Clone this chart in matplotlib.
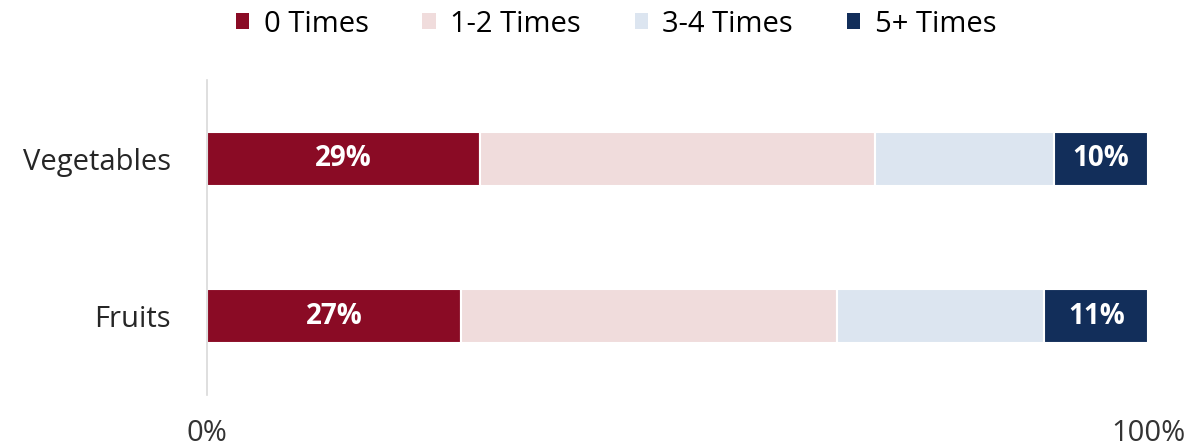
import matplotlib
matplotlib.use("Agg")
import matplotlib.pyplot as plt
from matplotlib.patches import Patch

categories = ["Fruits", "Vegetables"]
series_names = ["0 Times", "1-2 Times", "3-4 Times", "5+ Times"]
values = {
    "0 Times": [27, 29],
    "1-2 Times": [40, 42],
    "3-4 Times": [22, 19],
    "5+ Times": [11, 10],
}
labelled = ["0 Times", "5+ Times"]
colors = ["#8A0B25", "#F0DCDC", "#DCE5F0", "#122E5A"]
x_ticks = [0, 100]
x_tick_labels = ["0%", "100%"]

plt.rcParams["font.family"] = ["Open Sans", "DejaVu Sans"]

fig = plt.figure(figsize=(11.93, 4.46), dpi=100)
ax = fig.add_axes([207 / 1193, 51 / 446, 941 / 1193, 315 / 446])

left = [0.0] * len(categories)
for name, col in zip(series_names, colors):
    vals = values[name]
    bars = ax.barh(range(len(categories)), vals, left=left, height=0.345,
                   color=col, edgecolor="white", linewidth=1.5)
    if name in labelled:
        for b, v in zip(bars, vals):
            ax.text(b.get_x() + b.get_width() / 2, b.get_y() + b.get_height() / 2,
                    f"{v}%", ha="center", va="center", color="white",
                    fontsize=20, fontweight="bold")
    left = [l + v for l, v in zip(left, vals)]

ax.set_xlim(0, 100)
ax.set_ylim(-0.5, 1.5)
ax.set_yticks(range(len(categories)))
ax.set_yticklabels(categories, fontsize=21, color="#262626")
ax.set_xticks(x_ticks)
ax.set_xticklabels(x_tick_labels, fontsize=21, color="#333333")
ax.tick_params(axis="both", length=0)
ax.tick_params(axis="x", pad=17)
ax.tick_params(axis="y", pad=26)
for s in ["top", "right", "bottom"]:
    ax.spines[s].set_visible(False)
ax.spines["left"].set_color("#D9D9D9")
ax.spines["left"].set_linewidth(1.2)

handles = [Patch(facecolor=c, edgecolor="none") for c in colors]
fig.legend(handles, series_names, loc="center", bbox_to_anchor=(616 / 1193, 1 - 24 / 446),
           ncol=4, frameon=False, fontsize=21, handlelength=0.45, handleheight=0.45,
           handletextpad=0.5, columnspacing=1.85, borderpad=0.1)

fig.savefig("out.png", dpi=100)
